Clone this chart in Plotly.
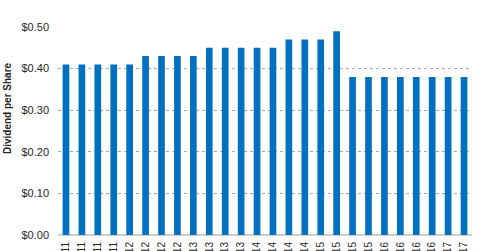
import plotly.graph_objects as go

quarters = ["1Q11", "2Q11", "3Q11", "4Q11",
            "1Q12", "2Q12", "3Q12", "4Q12",
            "1Q13", "2Q13", "3Q13", "4Q13",
            "1Q14", "2Q14", "3Q14", "4Q14",
            "1Q15", "2Q15", "3Q15", "4Q15",
            "1Q16", "2Q16", "3Q16", "4Q16",
            "1Q17", "2Q17"]
dividends = [0.41, 0.41, 0.41, 0.41, 0.41,
             0.43, 0.43, 0.43, 0.43,
             0.45, 0.45, 0.45, 0.45, 0.45,
             0.47, 0.47, 0.47,
             0.49,
             0.38, 0.38, 0.38, 0.38, 0.38, 0.38, 0.38, 0.38]
y_ticks = [0.0, 0.1, 0.2, 0.3, 0.4, 0.5]
y_tick_labels = ["$0.00", "$0.10", "$0.20", "$0.30", "$0.40", "$0.50"]

fig = go.Figure(go.Bar(
    x=quarters, y=dividends,
    marker=dict(color="#0070C0", line=dict(width=0)),
    width=0.42,
))

fig.update_layout(
    width=480, height=251,
    margin=dict(l=58, r=8, t=27, b=16),
    paper_bgcolor="white", plot_bgcolor="white",
    font=dict(family="Liberation Sans, Arial, sans-serif", size=11, color="#262626"),
    showlegend=False,
    xaxis=dict(
        type="category",
        range=[-0.5, len(quarters) - 0.5],
        tickangle=-90,
        showgrid=False,
        showline=False,
        ticks="",
        ticklabelstandoff=4,
        tickfont=dict(size=10, color="#262626"),
        automargin=False,
        fixedrange=True,
    ),
    yaxis=dict(
        range=[0, 0.5],
        tickvals=y_ticks,
        ticktext=y_tick_labels,
        showgrid=True,
        gridcolor="#a8a8a8",
        griddash="dot",
        gridwidth=1,
        zeroline=True,
        zerolinecolor="#d0d0d0",
        zerolinewidth=2,
        ticks="",
        ticklabelstandoff=8,
        tickfont=dict(size=11, color="#262626"),
        automargin=False,
        fixedrange=True,
    ),
    annotations=[dict(
        text="<b>Dividend per Share</b>",
        xref="paper", yref="paper",
        x=-50/414, y=(235-108)/208,
        xanchor="center", yanchor="middle",
        textangle=-90, showarrow=False,
        font=dict(size=10, color="#262626"),
    )],
)

fig.write_html("out.html")
